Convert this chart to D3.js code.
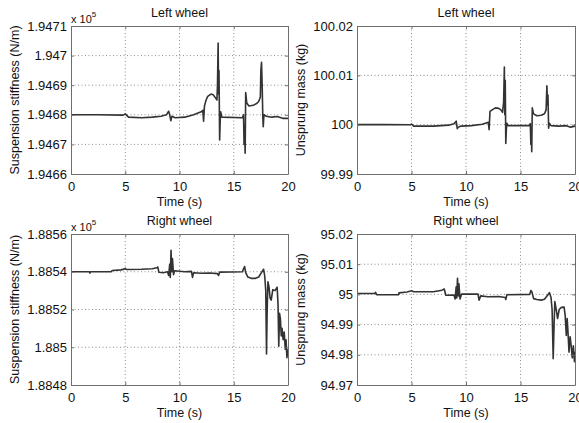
<!DOCTYPE html>
<html>
<head>
<meta charset="utf-8">
<script src="https://cdn.jsdelivr.net/npm/d3@7"></script>
<style>
  body { margin: 0; background: #fff; }
  svg { display: block; font-family: "Liberation Sans", Arial, sans-serif; }
</style>
</head>
<body>
<svg id="chart" width="579" height="423"></svg>
<script>
// time axis shared by all panels
const timeTicks = [0, 5, 10, 15, 20]

// left wheel suspension stiffness, in units of 1e5 N/m  [time (s), value]
const leftStiffness = [
    [0, 1.94680], [2.5, 1.94680], [4.8, 1.946799], [5.0, 1.946803], [5.3, 1.946792], [6.5, 1.946790],
    [7.5, 1.946792], [8.3, 1.946795], [8.8, 1.946800], [9.0, 1.946812], [9.1, 1.946800], [9.2, 1.946780],
    [9.3, 1.946795], [9.6, 1.946790], [10.5, 1.946792], [11.3, 1.946800], [12.0, 1.946810], [12.15, 1.946815],
    [12.22, 1.946778], [12.3, 1.946830], [12.45, 1.946850], [12.6, 1.946862], [12.9, 1.946870], [13.1, 1.946868],
    [13.3, 1.946858], [13.45, 1.946850], [13.5, 1.946900], [13.56, 1.947042], [13.6, 1.946870], [13.64, 1.946950],
    [13.7, 1.946715], [13.75, 1.946780], [13.8, 1.946810], [13.9, 1.946792], [15.8, 1.946790], [15.9, 1.946800],
    [15.95, 1.946700], [16.0, 1.946760], [16.05, 1.946670], [16.1, 1.946875], [16.2, 1.946840], [16.4, 1.946830],
    [16.8, 1.946832], [17.1, 1.946838], [17.3, 1.946845], [17.45, 1.946860], [17.5, 1.946950], [17.56, 1.946977],
    [17.62, 1.946900], [17.68, 1.946790], [17.72, 1.946760], [17.78, 1.946800], [18.0, 1.946795], [18.5, 1.946792],
    [19.0, 1.946794], [19.5, 1.946788], [20, 1.946788]
]
const leftStiffnessTicks = [1.9466, 1.9467, 1.9468, 1.9469, 1.947, 1.9471]

// left wheel unsprung mass (kg)
const leftMass = [
    [0, 100.0000], [2.5, 100.0000], [4.9, 99.99998], [5.0, 100.0001], [5.2, 99.9997], [7.0, 99.9997],
    [8.4, 99.9999], [8.9, 100.0002], [9.1, 100.0007], [9.2, 99.9992], [9.3, 99.9995], [9.5, 99.9997],
    [10.5, 99.9998], [11.5, 100.0001], [12.05, 100.0005], [12.12, 99.9990], [12.2, 100.0027], [12.4, 100.0030],
    [12.7, 100.0034], [13.0, 100.0033], [13.2, 100.0030], [13.35, 100.0025], [13.45, 100.0045], [13.52, 100.0117],
    [13.56, 100.0020], [13.6, 100.0090], [13.65, 99.9962], [13.7, 99.9990], [13.75, 100.0003], [13.85, 99.9998],
    [15.8, 99.9998], [15.9, 100.0002], [15.95, 99.9960], [16.0, 99.9985], [16.03, 99.9945], [16.08, 100.0034],
    [16.2, 100.0022], [16.5, 100.0018], [16.9, 100.0019], [17.2, 100.0022], [17.35, 100.0030], [17.42, 100.0079],
    [17.48, 100.0040], [17.52, 100.0060], [17.58, 99.9993], [17.65, 100.0003], [17.8, 99.9998], [18.5, 99.9997],
    [19.2, 99.9998], [19.6, 99.9995], [20, 99.9997]
]
const leftMassTicks = [99.99, 100, 100.01, 100.02]

// right wheel suspension stiffness, in units of 1e5 N/m
const rightStiffness = [
    [0, 1.88540], [1.7, 1.88540], [1.75, 1.885393], [1.8, 1.885400], [3.7, 1.885400], [3.8, 1.885407],
    [4.6, 1.885410], [4.9, 1.885414], [5.0, 1.885418], [5.1, 1.885412], [6.5, 1.885413], [7.5, 1.885416],
    [7.9, 1.885421], [8.0, 1.885425], [8.1, 1.885397], [8.5, 1.885395], [8.9, 1.885400], [9.0, 1.885380],
    [9.1, 1.885440], [9.15, 1.885370], [9.22, 1.885514], [9.28, 1.885400], [9.35, 1.885470], [9.45, 1.885385],
    [9.55, 1.885405], [10.5, 1.885400], [11.1, 1.885402], [11.2, 1.885370], [11.3, 1.885395], [12.0, 1.885392],
    [12.8, 1.885393], [13.5, 1.885390], [13.6, 1.885380], [13.7, 1.885398], [15.8, 1.885400], [15.9, 1.885415],
    [16.0, 1.885428], [16.1, 1.885395], [16.3, 1.885372], [16.6, 1.885365], [17.0, 1.885365], [17.3, 1.885372],
    [17.55, 1.885395], [17.75, 1.885413], [17.85, 1.885380], [17.95, 1.885300], [18.02, 1.884964], [18.08, 1.885200],
    [18.15, 1.885347], [18.25, 1.885320], [18.35, 1.885260], [18.45, 1.885250], [18.6, 1.885305], [18.8, 1.885300],
    [19.0, 1.885318], [19.08, 1.885230], [19.15, 1.885005], [19.22, 1.885180], [19.3, 1.885150], [19.38, 1.885060],
    [19.45, 1.885100], [19.55, 1.885040], [19.65, 1.885080], [19.75, 1.884990], [19.82, 1.885040], [19.9, 1.884945],
    [20, 1.884990]
]
const rightStiffnessTicks = [1.8848, 1.885, 1.8852, 1.8854, 1.8856]

// right wheel unsprung mass (kg)
const rightMass = [
    [0, 95.0003], [1.65, 95.0003], [1.7, 95.0007], [1.8, 94.9999], [3.8, 94.9999], [3.85, 95.0005],
    [4.6, 95.0008], [5.0, 95.0012], [5.2, 95.0009], [7.0, 95.0009], [7.8, 95.0014], [8.0, 95.0018],
    [8.15, 94.9997], [8.9, 94.9998], [9.0, 94.9985], [9.1, 95.0025], [9.15, 94.9988], [9.22, 95.0053],
    [9.3, 94.9995], [9.35, 95.0035], [9.45, 94.9985], [9.6, 95.0001], [11.1, 95.0001], [11.2, 94.9981],
    [11.35, 94.9995], [12.0, 94.9992], [13.0, 94.9993], [13.6, 94.9990], [13.65, 94.9983], [13.75, 94.9999],
    [15.85, 95.0000], [15.95, 95.0013], [16.05, 95.0008], [16.2, 94.9986], [16.5, 94.9983], [16.9, 94.9981],
    [17.2, 94.9984], [17.5, 94.9998], [17.65, 95.0006], [17.8, 94.9990], [17.9, 94.9950], [18.0, 94.9787],
    [18.08, 94.9900], [18.15, 94.9976], [18.3, 94.9945], [18.4, 94.9920], [18.55, 94.9950], [18.75, 94.9957],
    [19.0, 94.9958], [19.1, 94.9930], [19.2, 94.9864], [19.28, 94.9920], [19.35, 94.9880], [19.45, 94.9809],
    [19.55, 94.9860], [19.65, 94.9830], [19.75, 94.9790], [19.85, 94.9830], [19.95, 94.9777], [20, 94.9810]
]
const rightMassTicks = [94.97, 94.98, 94.99, 95, 95.01, 95.02]

const svg = d3.select("#chart")

const panels = [
    { title: "Left wheel", ylabel: "Suspension stiffness (N/m)", data: leftStiffness, ticks: leftStiffnessTicks,
      digits: 4, exponent: "5", x0: 71, x1: 288, y0: 26, y1: 174 },
    { title: "Left wheel", ylabel: "Unsprung mass (kg)", data: leftMass, ticks: leftMassTicks,
      digits: 2, exponent: null, x0: 357, x1: 575, y0: 26, y1: 174 },
    { title: "Right wheel", ylabel: "Suspension stiffness (N/m)", data: rightStiffness, ticks: rightStiffnessTicks,
      digits: 4, exponent: "5", x0: 71, x1: 288, y0: 234, y1: 385 },
    { title: "Right wheel", ylabel: "Unsprung mass (kg)", data: rightMass, ticks: rightMassTicks,
      digits: 2, exponent: null, x0: 357, x1: 575, y0: 234, y1: 385 }
]

const frameColor = "#6e6e6e"
const gridColor = "#8c8c8c"

panels.forEach(p => drawPanel(svg.append("g"), p))

function drawPanel(g, p) {
    let scX = d3.scaleLinear().domain([0, 20]).range([p.x0, p.x1])
    let scY = d3.scaleLinear().domain(d3.extent(p.ticks)).range([p.y1, p.y0])
    let fmt = d => String(+d.toFixed(p.digits))

    // grid
    g.append("g").selectAll("line").data(timeTicks.slice(1, -1)).join("line")
        .attr("x1", d => scX(d)).attr("x2", d => scX(d))
        .attr("y1", p.y0).attr("y2", p.y1)
        .attr("stroke", gridColor).attr("stroke-width", 1).attr("stroke-dasharray", "1,2.5")
    g.append("g").selectAll("line").data(p.ticks.slice(1, -1)).join("line")
        .attr("x1", p.x0).attr("x2", p.x1)
        .attr("y1", d => scY(d)).attr("y2", d => scY(d))
        .attr("stroke", gridColor).attr("stroke-width", 1).attr("stroke-dasharray", "1,2.5")

    // data line
    let lnMkr = d3.line().x(d => scX(d[0])).y(d => scY(d[1]))
    g.append("path")
        .attr("d", lnMkr(p.data))
        .attr("fill", "none")
        .attr("stroke", "#333")
        .attr("stroke-width", 1.6)
        .attr("stroke-linejoin", "round")

    // axes, ticks pointing inward like matlab
    g.append("g").attr("transform", `translate(0,${p.y1})`)
        .call(d3.axisBottom(scX).tickValues(timeTicks).tickFormat(d3.format("d"))
            .tickSizeInner(-3).tickSizeOuter(0).tickPadding(8))
    g.append("g").attr("transform", `translate(${p.x0},0)`)
        .call(d3.axisLeft(scY).tickValues(p.ticks).tickFormat(fmt)
            .tickSizeInner(-3).tickSizeOuter(0).tickPadding(4))
    g.append("g").attr("transform", `translate(0,${p.y0})`)
        .call(d3.axisTop(scX).tickValues(timeTicks).tickFormat("").tickSizeInner(-3).tickSizeOuter(0))
    g.append("g").attr("transform", `translate(${p.x1},0)`)
        .call(d3.axisRight(scY).tickValues(p.ticks).tickFormat("").tickSizeInner(-3).tickSizeOuter(0))

    g.selectAll(".domain").attr("stroke", frameColor)
    g.selectAll(".tick line").attr("stroke", frameColor)
    g.selectAll(".tick text").attr("fill", "#111").style("font-size", "13px")
        .style("font-family", "'Liberation Sans', Arial, sans-serif")

    // title and labels
    g.append("text")
        .attr("x", (p.x0 + p.x1) / 2).attr("y", p.y0 - 9)
        .attr("text-anchor", "middle").attr("font-size", 12.5).attr("fill", "#111")
        .text(p.title)
    g.append("text")
        .attr("x", (p.x0 + p.x1) / 2).attr("y", p.y1 + 32)
        .attr("text-anchor", "middle").attr("font-size", 12.5).attr("fill", "#111")
        .text("Time (s)")
    g.append("text")
        .attr("transform", `translate(${p.x0 - 52},${(p.y0 + p.y1) / 2}) rotate(-90)`)
        .attr("text-anchor", "middle").attr("font-size", 12.5).attr("fill", "#111")
        .text(p.ylabel)

    if (p.exponent) {
        let ex = g.append("text")
            .attr("x", p.x0).attr("y", p.y0 - 3)
            .attr("font-size", 11).attr("fill", "#111")
        ex.append("tspan").text("x 10")
        ex.append("tspan").attr("dy", -6).attr("font-size", 8).text(p.exponent)
    }
}
</script>
</body>
</html>
